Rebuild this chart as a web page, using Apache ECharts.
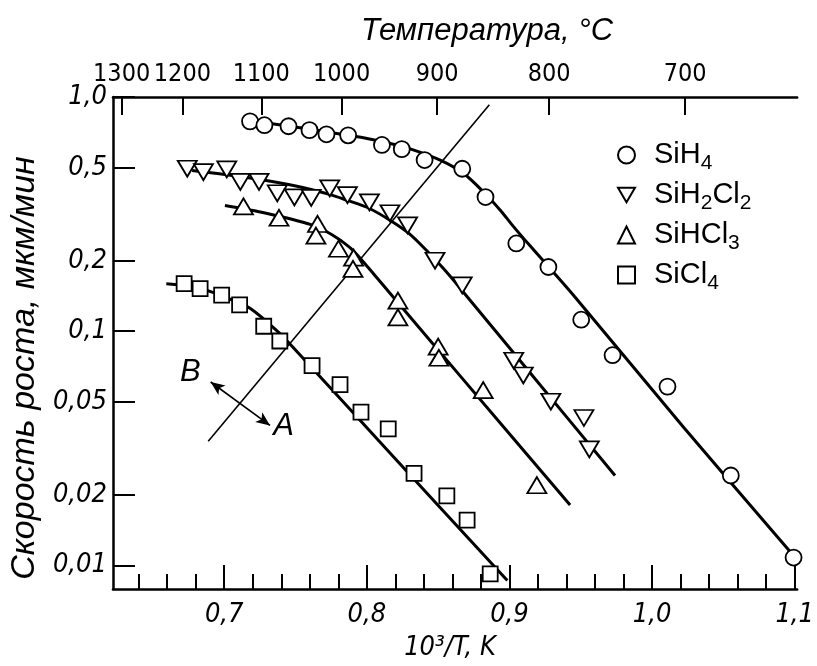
<!DOCTYPE html>
<html><head><meta charset="utf-8">
<script src="https://cdn.jsdelivr.net/npm/echarts@6/dist/echarts.min.js"></script>
<style>html,body{margin:0;padding:0;background:#fff}#c{width:817px;height:666px}</style>
</head><body><div id="c"></div>
<script>
// ---- data (x = 10^3/T, y = growth rate, мкм/мин) ----
const sih4 = [[0.7181,0.787],[0.7282,0.758],[0.7451,0.750],[0.7598,0.722],[0.7717,0.693],[0.7869,0.686],[0.8106,0.624],[0.8245,0.599],[0.8405,0.538],[0.8669,0.494],[0.8832,0.374],[0.9048,0.237],[0.9273,0.188],[0.9503,0.112],[0.9723,0.079],[1.0108,0.058],[1.0552,0.0242],[1.0992,0.0108]];
const sih4Fit = [[0.7181,0.793],[0.7519,0.741],[0.7903,0.681],[0.8128,0.641],[0.8309,0.599],[0.8522,0.535],[0.8681,0.470],[0.8827,0.388],[0.8940,0.326],[0.9030,0.279],[0.9143,0.232],[0.9459,0.140],[1.0225,0.0386],[1.1015,0.0106]];
const sih2cl2 = [[0.6741,0.494],[0.6854,0.478],[0.7018,0.491],[0.7113,0.434],[0.7244,0.434],[0.7372,0.388],[0.7492,0.373],[0.7610,0.371],[0.7740,0.407],[0.7864,0.381],[0.8018,0.355],[0.8162,0.319],[0.8286,0.283],[0.8478,0.200],[0.8669,0.157],[0.9030,0.0748],[0.9097,0.0647],[0.9290,0.0500],[0.9522,0.0426],[0.9560,0.0313]];
const sih2cl2Fit = [[0.6775,0.485],[0.7181,0.451],[0.7519,0.415],[0.7744,0.383],[0.7857,0.363],[0.8015,0.335],[0.8173,0.295],[0.8297,0.261],[0.8421,0.2205],[0.8534,0.186],[0.8647,0.1545],[0.9143,0.0666],[0.9740,0.0242]];
const sihcl3 = [[0.7135,0.341],[0.7384,0.305],[0.7654,0.287],[0.7643,0.256],[0.7801,0.225],[0.7907,0.206],[0.7903,0.1845],[0.8218,0.135],[0.8218,0.1145],[0.8500,0.0859],[0.8505,0.0770],[0.8816,0.0560],[0.9192,0.0220]];
const sihcl3Fit = [[0.7005,0.344],[0.7294,0.319],[0.7609,0.285],[0.7756,0.258],[0.7880,0.228],[0.7947,0.207],[0.8060,0.172],[0.8669,0.0629],[0.9425,0.0181]];
const sicl4 = [[0.6719,0.1595],[0.6831,0.152],[0.6982,0.1426],[0.7108,0.1295],[0.7277,0.105],[0.7390,0.0908],[0.7616,0.0713],[0.7812,0.0591],[0.7959,0.0451],[0.8150,0.0383],[0.8331,0.0247],[0.8561,0.0198],[0.8703,0.0156],[0.8865,0.0092]];
const sicl4Fit = [[0.6594,0.1595],[0.6775,0.1553],[0.6910,0.1473],[0.7045,0.1369],[0.7181,0.1253],[0.7361,0.1016],[0.7474,0.0865],[0.8196,0.0287],[0.8985,0.00862]];
const boundaryLine = [[0.6888,0.0339],[0.8859,0.926]];
const arrowEnds = [[0.6905,0.0607],[0.7321,0.0396]];
const regionLabels = [{name:'B', value:[0.6763,0.0668]},{name:'A', value:[0.7417,0.0392]}];
// ---- axes ----
const xMajorTicks = [0.7,0.8,0.9,1.0,1.1];
const xMinorTicks = [0.64,0.66,0.68,0.72,0.74,0.76,0.78,0.82,0.84,0.86,0.88,0.92,0.94,0.96,0.98,1.02,1.04,1.06,1.08];
const yTicks = [0.01,0.02,0.05,0.1,0.2,0.5,1];
const yTickLabels = ['0,01','0,02','0,05','0,1','0,2','0,5','1,0'];
const tempLabels = ['1300','1200','1100','1000','900','800','700'];
const tempTickX = [0.6281,0.6707,0.7260,0.7823,0.8493,0.9278,1.0232];

const X_MIN = 0.622, X_MAX = 1.1017, Y_MIN = 0.00793, Y_MAX = 1;
const narrow = '"Liberation Sans Narrow","DejaVu Sans Condensed","Liberation Sans",sans-serif';
const sans = '"Liberation Sans","DejaVu Sans",sans-serif';

const chart = echarts.init(document.getElementById('c'));
const baseX = {type:'value', min:X_MIN, max:X_MAX, splitLine:{show:false}, scale:false};
function tickOnlyAxis(pos, values, len){
  return Object.assign({}, baseX, {position:pos, axisLine:{show:false},
    axisTick:{show:true, inside:true, length:len, customValues:values, lineStyle:{color:'#000', width:2}},
    axisLabel:{show:false}});
}
function fitSeries(data){
  return {type:'line', data:data, smooth:0.3, showSymbol:false, symbol:'none',
    lineStyle:{color:'#000', width:3}, z:2, silent:true, clip:true};
}
function markSeries(name, data, symbol, size, rotate){
  return {type:'scatter', name:name, data:data, symbol:symbol, symbolSize:size, symbolRotate:rotate||0,
    itemStyle:{color:'#fff', borderColor:'#000', borderWidth:1.8, opacity:1}, z:5};
}
const option = {
  animation:false,
  backgroundColor:'#fff',
  grid:{left:108, top:97, right:0, bottom:69, containLabel:false},
  xAxis:[
    Object.assign({}, baseX, {position:'bottom',
      axisLine:{show:true, lineStyle:{color:'#000', width:2.5}},
      axisTick:{show:false},
      axisLabel:{show:true, customValues:xMajorTicks, margin:12, hideOverlap:false, formatter:v=>v.toFixed(1).replace('.',','),
        color:'#000', fontSize:27, fontStyle:'italic', fontFamily:narrow},
      name:'10³/T, K', nameLocation:'middle', nameGap:45,
      nameTextStyle:{color:'#000', fontSize:27, fontStyle:'italic', fontFamily:narrow, padding:[0,10,0,0]}}),
    tickOnlyAxis('bottom', xMinorTicks, 15),
    Object.assign({}, baseX, {position:'top',
      axisLine:{show:true, lineStyle:{color:'#000', width:2.5}},
      axisTick:{show:false},
      axisLabel:{show:true, customValues:tempTickX, margin:10, hideOverlap:false, showMinLabel:true, showMaxLabel:true,
        formatter:v=>{const i=tempTickX.findIndex(t=>Math.abs(t-v)<1e-6); return i>=0?tempLabels[i]:'';},
        color:'#000', fontSize:25, fontFamily:narrow},
      name:'Температура, °С', nameLocation:'middle', nameGap:50,
      nameTextStyle:{color:'#000', fontSize:31, fontStyle:'italic', fontFamily:sans, padding:[0,0,0,64]}}),
    tickOnlyAxis('bottom', xMajorTicks, 24),
    tickOnlyAxis('top', tempTickX, 18)
  ],
  yAxis:[{type:'log', logBase:10, min:Y_MIN, max:Y_MAX, position:'left',
    splitLine:{show:false},
    axisLine:{show:true, lineStyle:{color:'#000', width:2.5}},
    axisTick:{show:true, inside:true, length:22, customValues:yTicks, lineStyle:{color:'#000', width:2}},
    axisLabel:{show:true, customValues:yTicks, margin:6, hideOverlap:false,
      formatter:v=>{let b=0,d=1e9; yTicks.forEach((t,i)=>{const e=Math.abs(Math.log10(t)-Math.log10(v)); if(e<d){d=e;b=i;}}); return yTickLabels[b];},
      color:'#000', fontSize:27, fontStyle:'italic', fontFamily:narrow},
    minorTick:{show:false},
    name:'Скорость роста, мкм/мин', nameLocation:'middle', nameGap:56, nameRotate:90,
    nameTextStyle:{color:'#000', fontSize:34, fontStyle:'italic', fontFamily:sans, padding:[0,50,0,0]}
  }],
  legend:{show:true, orient:'vertical', left:612, top:131, itemGap:2, itemWidth:17, itemHeight:17,
    data:[{name:'SiH4'},{name:'SiH2Cl2', icon:'path://M0,0L20,0L10,17Z'},{name:'SiHCl3'},{name:'SiCl4'}],
    selectedMode:false,
    formatter:n=>n.replace(/(\d)/g,'{s|$1}'),
    textStyle:{color:'#000', fontSize:29, fontFamily:sans, lineHeight:38, padding:[0,0,0,14],
      rich:{s:{fontSize:21, fontFamily:sans, lineHeight:18, verticalAlign:'bottom', color:'#000'}}}},
  series:[
    fitSeries(sih4Fit), fitSeries(sih2cl2Fit), fitSeries(sihcl3Fit), fitSeries(sicl4Fit),
    {type:'line', data:boundaryLine, symbol:'none', showSymbol:false, lineStyle:{color:'#000', width:1.6}, z:2, silent:true},
    {type:'line', data:[], symbol:'none', silent:true,
      markLine:{silent:true, symbol:['arrow','arrow'], symbolSize:[9,14], label:{show:false},
        lineStyle:{color:'#000', width:1.6, type:'solid'},
        data:[[{coord:arrowEnds[0]},{coord:arrowEnds[1]}]]}},
    {type:'scatter', data:regionLabels, symbol:'circle', symbolSize:1, itemStyle:{color:'rgba(0,0,0,0)'}, silent:true, z:6,
      label:{show:true, position:'inside', formatter:p=>p.name, color:'#000', opacity:1, fontSize:31, fontStyle:'italic', fontFamily:sans}},
    markSeries('SiH4', sih4, 'circle', 16),
    markSeries('SiH2Cl2', sih2cl2, 'triangle', [19,16], 180),
    markSeries('SiHCl3', sihcl3, 'triangle', [19,16]),
    markSeries('SiCl4', sicl4, 'rect', 15)
  ]
};
chart.setOption(option);
</script></body></html>
